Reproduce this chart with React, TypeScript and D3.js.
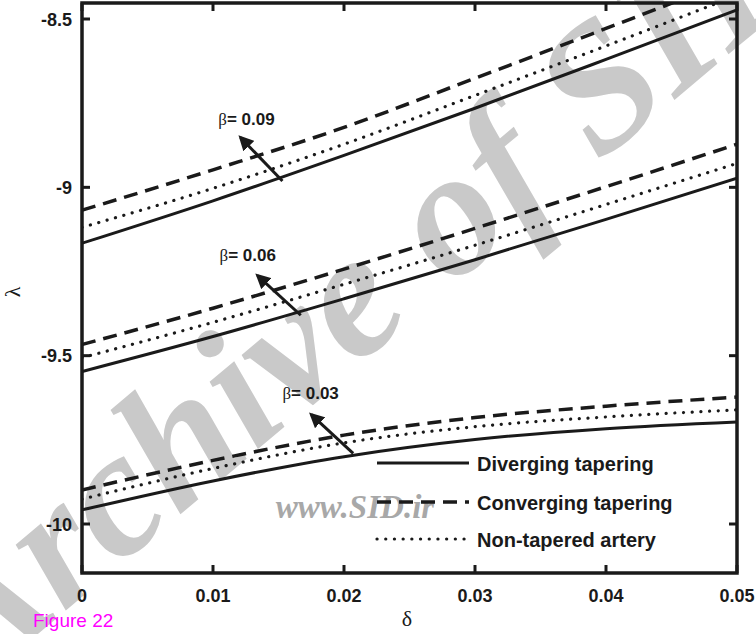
import React from "react";
import * as d3 from "d3";

const deltas = [0, 0.01, 0.02, 0.03, 0.04, 0.05];

// beta = 0.09
const div09 = [-9.166, -9.04, -8.905, -8.765, -8.62, -8.473];
const con09 = [-9.068, -8.948, -8.822, -8.676, -8.528, -8.378];
const non09 = [-9.119, -9.003, -8.872, -8.727, -8.58, -8.43];
// beta = 0.06
const div06 = [-9.547, -9.443, -9.331, -9.215, -9.095, -8.973];
const con06 = [-9.467, -9.359, -9.243, -9.122, -8.998, -8.872];
const non06 = [-9.506, -9.401, -9.288, -9.172, -9.051, -8.929];
// beta = 0.03
const div03 = [-9.958, -9.872, -9.8, -9.749, -9.717, -9.697];
const con03 = [-9.899, -9.811, -9.736, -9.684, -9.65, -9.623];
const non03 = [-9.926, -9.835, -9.759, -9.711, -9.682, -9.661];

const xTicks = [0, 0.01, 0.02, 0.03, 0.04, 0.05];
const xTickLabels = ["0", "0.01", "0.02", "0.03", "0.04", "0.05"];
const yTicks = [-10, -9.5, -9, -8.5];
const yTickLabels = ["-10", "-9.5", "-9", "-8.5"];

const legendLabels = ["Diverging tapering", "Converging tapering", "Non-tapered artery"];

const betaLabels = ["0.09", "0.06", "0.03"];
const annText = [
  [0.0104, -8.815],
  [0.0105, -9.22],
  [0.0153, -9.63],
];
const annTail = [
  [0.0153, -8.981],
  [0.0167, -9.38],
  [0.0207, -9.79],
];
const annHead = [
  [0.0121, -8.852],
  [0.0134, -9.262],
  [0.0175, -9.675],
];

const W = 756;
const H = 634;
const L = 82, R = 737, T = 3, B = 573;

export default function App() {
  const x = d3.scaleLinear().domain([0, 0.05]).range([L, R]);
  const y = d3.scaleLinear().domain([-10, -8.5]).range([524, 19]);
  const line = d3
    .line<number>()
    .x((_, i) => x(deltas[i]))
    .y((d) => y(d))
    .curve(d3.curveMonotoneX);

  const series = [
    { data: div09, style: "solid" },
    { data: con09, style: "dash" },
    { data: non09, style: "dot" },
    { data: div06, style: "solid" },
    { data: con06, style: "dash" },
    { data: non06, style: "dot" },
    { data: div03, style: "solid" },
    { data: con03, style: "dash" },
    { data: non03, style: "dot" },
  ];
  const styleProps = (s: string) =>
    s === "solid"
      ? { strokeWidth: 3 }
      : s === "dash"
      ? { strokeWidth: 3.5, strokeDasharray: "14 8" }
      : { strokeWidth: 3.2, strokeDasharray: "0.1 8.6", strokeLinecap: "round" as const };

  const font = "Liberation Sans, Arial, Helvetica, sans-serif";

  return (
    <div style={{ position: "absolute", left: 0, top: 0 }}>
      <svg width={W} height={H} style={{ display: "block", background: "#fff" }}>
        <defs>
          <clipPath id="plot">
            <rect x={L} y={T} width={R - L} height={B - T} />
          </clipPath>
          <marker id="ah" viewBox="0 0 10 10" refX="8" refY="5" markerWidth="5" markerHeight="5" orient="auto">
            <path d="M0,0 L10,5 L0,10 z" fill="#1a1a1a" />
          </marker>
        </defs>
        {/* watermark */}
        <text
          x={400}
          y={330}
          transform="rotate(-40 400 330)"
          textAnchor="middle"
          fontFamily="Liberation Serif, DejaVu Serif, serif"
          fontStyle="italic"
          fontWeight="bold"
          fontSize={180}
          fill="#c9c9c9"
        >
          Archive of SID
        </text>
        <text
          x={355}
          y={518}
          textAnchor="middle"
          fontFamily="Liberation Serif, DejaVu Serif, serif"
          fontStyle="italic"
          fontWeight="bold"
          fontSize={33}
          fill="#a8a8a8"
        >
          www.SID.ir
        </text>

        <g clipPath="url(#plot)">
          {series.map((s, i) => (
            <path key={i} d={line(s.data) || ""} fill="none" stroke="#1a1a1a" {...styleProps(s.style)} />
          ))}
        </g>

        {/* axes box */}
        <rect x={L} y={T} width={R - L} height={B - T} fill="none" stroke="#1a1a1a" strokeWidth={3.5} />
        {xTicks.map((t, i) => (
          <g key={"xt" + i}>
            <line x1={x(t)} x2={x(t)} y1={B} y2={B - 8} stroke="#1a1a1a" strokeWidth={3} />
            <line x1={x(t)} x2={x(t)} y1={T} y2={T + 8} stroke="#1a1a1a" strokeWidth={3} />
            <text x={x(t)} y={602} textAnchor="middle" fontFamily={font} fontWeight="bold" fontSize={18} fill="#1a1a1a">
              {xTickLabels[i]}
            </text>
          </g>
        ))}
        {yTicks.map((t, i) => (
          <g key={"yt" + i}>
            <line x1={L} x2={L + 8} y1={y(t)} y2={y(t)} stroke="#1a1a1a" strokeWidth={3} />
            <line x1={R} x2={R - 8} y1={y(t)} y2={y(t)} stroke="#1a1a1a" strokeWidth={3} />
            <text x={72} y={y(t) + 6.5} textAnchor="end" fontFamily={font} fontWeight="bold" fontSize={18} fill="#1a1a1a">
              {yTickLabels[i]}
            </text>
          </g>
        ))}

        {/* annotations */}
        {betaLabels.map((b, i) => (
          <g key={"ann" + i}>
            <line
              x1={x(annTail[i][0])}
              y1={y(annTail[i][1])}
              x2={x(annHead[i][0])}
              y2={y(annHead[i][1])}
              stroke="#1a1a1a"
              strokeWidth={3}
              markerEnd="url(#ah)"
            />
            <text x={x(annText[i][0])} y={y(annText[i][1])} fontSize={17} fill="#1a1a1a">
              <tspan fontFamily="Liberation Serif, DejaVu Serif, serif">β</tspan>
              <tspan fontFamily={font} fontWeight="bold">= {b}</tspan>
            </text>
          </g>
        ))}

        {/* legend */}
        {legendLabels.map((lab, i) => {
          const ly = [463, 502, 539][i];
          const st = styleProps(["solid", "dash", "dot"][i]);
          return (
            <g key={"lg" + i}>
              <line x1={377} x2={469} y1={ly} y2={ly} stroke="#1a1a1a" {...st} />
              <text x={477} y={ly + 8} fontFamily={font} fontWeight="bold" fontSize={20} fill="#1a1a1a">
                {lab}
              </text>
            </g>
          );
        })}

        {/* axis labels */}
        <text x={407} y={626} textAnchor="middle" fontFamily="Liberation Serif, DejaVu Serif, serif" fontSize={22} fill="#1a1a1a">
          δ
        </text>
        <text
          x={20}
          y={292}
          transform="rotate(-90 20 292)"
          textAnchor="middle"
          fontFamily="Liberation Serif, DejaVu Serif, serif"
          fontSize={22}
          fill="#1a1a1a"
        >
          λ
        </text>
        <text x={33} y={627} fontFamily={font} fontSize={19} fill="#ff00ff">
          Figure 22
        </text>
      </svg>
    </div>
  );
}
